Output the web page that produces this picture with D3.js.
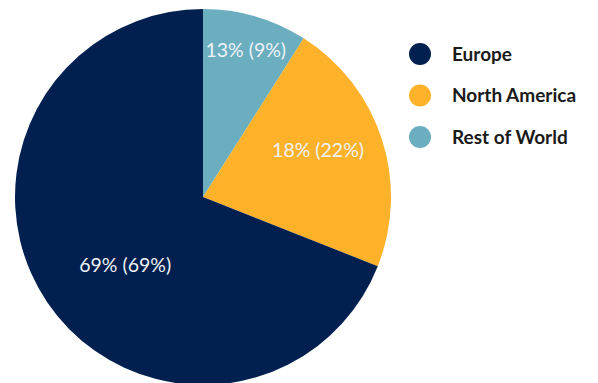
<!doctype html>
<html>
<head>
    <script src="https://d3js.org/d3.v7.min.js"></script>
    <style>
        body { margin: 0; background: #fff; }
        svg text { font-family: Lato, sans-serif; }
    </style>
</head>
<body>
<script>
    // slice shares (the value in brackets) and the label shown on each slice
    let regions = ["Rest of World", "North America", "Europe"];
    let shares = [9, 22, 69];
    let labels = ["13% (9%)", "18% (22%)", "69% (69%)"];
    let colours = ["#6aaec0", "#fdb22a", "#02204f"];
    let legendOrder = ["Europe", "North America", "Rest of World"];

    let width = 598, height = 383;
    let cx = 203, cy = 197, radius = 188;

    let svg = d3.select("body").append("svg")
        .attr("width", width)
        .attr("height", height);

    let colour = d3.scaleOrdinal().domain(regions).range(colours);

    let pie = d3.pie().sort(null).value((d, i) => shares[i]);
    let arcs = pie(regions);

    let arc = d3.arc().innerRadius(0).outerRadius(radius);

    let g = svg.append("g").attr("transform", "translate(" + cx + "," + cy + ")");

    g.selectAll("path")
        .data(arcs)
        .enter()
        .append("path")
        .attr("d", arc)
        .attr("fill", d => colour(d.data));

    // label placement: fraction of radius, plus a small angle nudge (degrees)
    let labelRadius = [0.815, 0.66, 0.55];
    let labelNudge = [0, -4, -7];
    g.selectAll("text.lbl")
        .data(arcs)
        .enter()
        .append("text")
        .attr("class", "lbl")
        .attr("transform", (d, i) => {
            let a = (d.startAngle + d.endAngle) / 2 + labelNudge[i] * Math.PI / 180;
            let r = radius * labelRadius[i];
            return "translate(" + (r * Math.sin(a)) + "," + (-r * Math.cos(a)) + ")";
        })
        .attr("text-anchor", "middle")
        .attr("dy", "0.35em")
        .attr("fill", "#eef2f6")
        .attr("font-size", 19.5)
        .text((d, i) => labels[i]);

    // legend
    let y = d3.scalePoint().domain(legendOrder).range([54, 137]);
    let legend = svg.selectAll("g.legend")
        .data(legendOrder)
        .enter()
        .append("g")
        .attr("class", "legend")
        .attr("transform", d => "translate(420," + y(d) + ")");

    legend.append("circle")
        .attr("r", 11)
        .attr("fill", d => colour(d));

    legend.append("text")
        .attr("x", 32)
        .attr("dy", "0.35em")
        .attr("font-size", 19)
        .attr("font-weight", "bold")
        .attr("fill", "#1a1a1a")
        .text(d => d);
</script>
</body>
</html>
